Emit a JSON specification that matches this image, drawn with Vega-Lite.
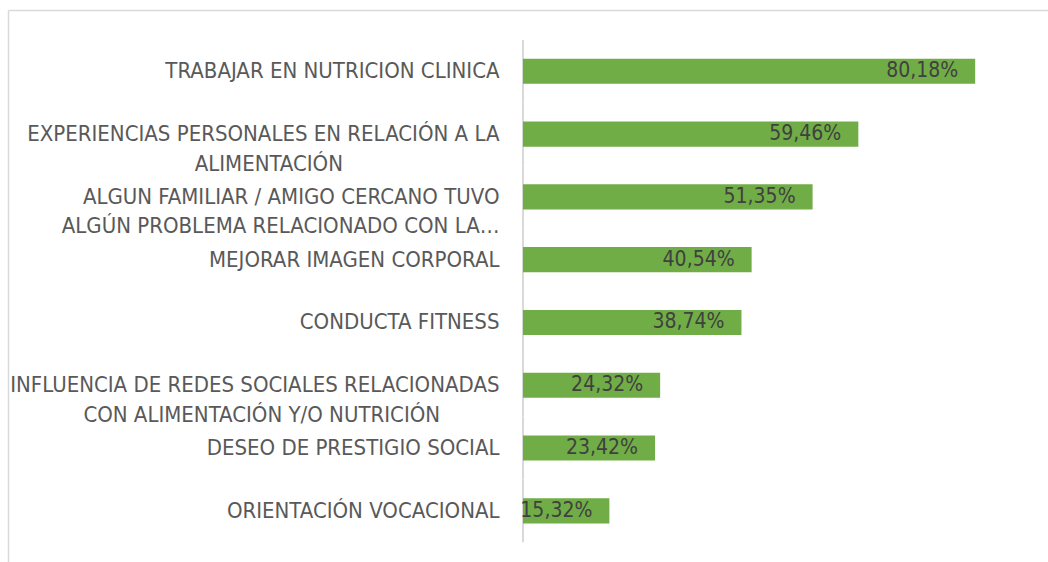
{
  "$schema": "https://vega.github.io/schema/vega-lite/v6.json",
  "autosize": "none",
  "width": 1040,
  "height": 552,
  "padding": {"left": 8, "top": 10, "right": 0, "bottom": 0},
  "background": "#ffffff",
  "config": {
    "view": {"stroke": null},
    "locale": {"number": {"decimal": ",", "thousands": ".", "grouping": [3], "currency": ["", " €"]}}
  },
  "data": {
    "values": [
      {"motivo": "TRABAJAR EN NUTRICION CLINICA", "pct": 0.8018},
      {"motivo": "EXPERIENCIAS PERSONALES EN RELACIÓN A LA|ALIMENTACIÓN\u2003\u2003\u2003\u2003\u2003\u2003\u00a0\u00a0\u00a0\u00a0\u00a0\u00a0\u200b", "pct": 0.5946},
      {"motivo": "ALGUN FAMILIAR / AMIGO CERCANO TUVO|ALGÚN PROBLEMA RELACIONADO CON LA…", "pct": 0.5135},
      {"motivo": "MEJORAR IMAGEN CORPORAL", "pct": 0.4054},
      {"motivo": "CONDUCTA FITNESS", "pct": 0.3874},
      {"motivo": "INFLUENCIA DE REDES SOCIALES RELACIONADAS|CON ALIMENTACIÓN Y/O NUTRICIÓN\u2003\u2003\u2003\u200b", "pct": 0.2432},
      {"motivo": "DESEO DE PRESTIGIO SOCIAL", "pct": 0.2342},
      {"motivo": "ORIENTACIÓN VOCACIONAL", "pct": 0.1532}
    ]
  },
  "encoding": {
    "y": {
      "field": "motivo",
      "type": "nominal",
      "sort": null,
      "scale": {"paddingInner": 0.6, "paddingOuter": 0.695, "align": 0.558},
      "axis": {
        "orient": "left",
        "title": null,
        "ticks": false,
        "domainColor": "#D9D9D9",
        "domainWidth": 1.5,
        "labelPadding": -491,
        "labelAlign": "right",
        "labelBaseline": "middle",
        "labelExpr": "split(datum.label, '|')",
        "labelFont": "DejaVu Sans Condensed",
        "labelFontSize": 22,
        "labelColor": "#595959",
        "labelLineHeight": 29.5,
        "labelLimit": 0
      }
    }
  },
  "layer": [
    {
      "mark": {"type": "rule", "color": "#D9D9D9", "strokeWidth": 2},
      "encoding": {
        "x": {"datum": 0, "type": "quantitative"},
        "y": {"field": "motivo", "type": "nominal", "sort": null, "bandPosition": -0.75},
        "y2": {"field": "motivo", "bandPosition": 1.75}
      }
    },
    {
      "mark": {"type": "bar", "color": "#70AD47"},
      "encoding": {
        "x": {
          "field": "pct",
          "type": "quantitative",
          "scale": {"domain": [-0.9131, 0.9309], "nice": false, "zero": false},
          "axis": {"orient": "top", "title": null, "labels": false, "ticks": false, "grid": false, "domainColor": "#D9D9D9", "domainWidth": 1.5}
        },
        "x2": {"datum": 0}
      }
    },
    {
      "mark": {"type": "text", "align": "right", "baseline": "middle", "dx": -17, "font": "DejaVu Sans Condensed", "fontSize": 21, "color": "#404040"},
      "encoding": {
        "x": {"field": "pct", "type": "quantitative"},
        "text": {"field": "pct", "type": "quantitative", "format": ".2%"}
      }
    }
  ]
}
